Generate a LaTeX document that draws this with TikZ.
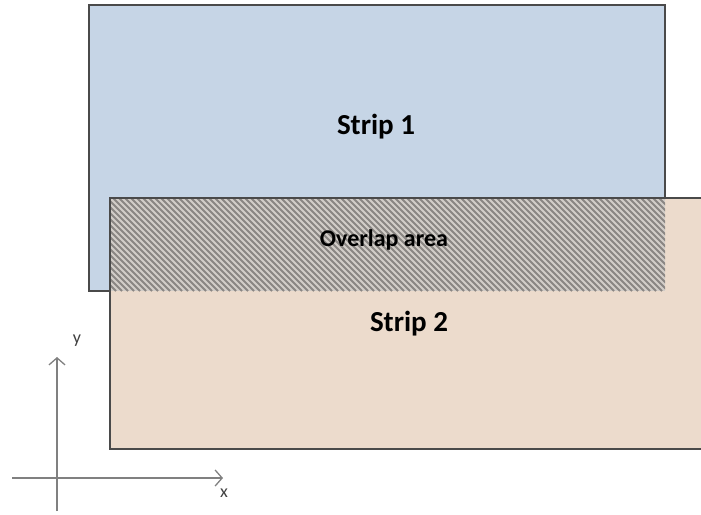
\documentclass[tikz,border=0pt]{standalone}
\usepackage{fontspec}
\setmainfont{Carlito}
\usetikzlibrary{arrows.meta}
\definecolor{stripblue}{HTML}{C6D5E6}
\definecolor{strippeach}{HTML}{ECDBCC}
\definecolor{edgegray}{HTML}{4A4A4A}
\definecolor{hatchbg}{HTML}{D2CDC8}
\definecolor{hatchfg}{HTML}{8A8683}
\definecolor{axisgray}{HTML}{808080}
\tikzset{
  stripbox/.style={draw=edgegray, line width=1.6pt, inner sep=0pt, outer sep=0pt},
  stripedge/.style={draw=edgegray, line width=1.6pt},
  bigtext/.style={font=\bfseries\fontsize{29}{29}\selectfont, anchor=base, inner sep=0pt},
  smalltext/.style={font=\bfseries\fontsize{24}{24}\selectfont, anchor=base, inner sep=0pt},
  axisline/.style={draw=axisgray, line width=1.5pt, -{Straight Barb[length=7pt,width=16pt,line width=1.3pt]}},
  axislabel/.style={font=\fontsize{18}{18}\selectfont, text=black!75, inner sep=0pt}
}
\begin{document}
\begin{tikzpicture}[x=1pt,y=-1pt]
\useasboundingbox (0,0) rectangle (701,514);
\clip (0,0) rectangle (701,514);
% Strip 1
\node[stripbox, fill=stripblue, minimum width=576pt, minimum height=286pt, anchor=north west] (s1) at (89,5) {};
% Strip 2 (runs past the right edge, so no right border)
\node[fill=strippeach, inner sep=0pt, outer sep=0pt, minimum width=660pt, minimum height=251pt, anchor=north west] (s2) at (110,198) {};
% overlap hatch
\begin{scope}
\clip (110,198) rectangle (665,291);
\fill[hatchbg] (110,198) rectangle (665,291);
\foreach \a in {11,17,...,671} {
  \draw[hatchfg, line width=2pt] (\a,198) -- ++(93,93);
}
\end{scope}
\draw[stripedge] (s2.north east) -- (s2.north west) -- (s2.south west) -- (s2.south east);
% labels
\node[bigtext] (l1) at (376,134) {Strip 1};
\node[bigtext] (l2) at (409,331) {Strip 2};
\node[smalltext] (lo) at (384,246) {Overlap area};
% axes
\coordinate (ybot) at (57,511);
\coordinate (ytop) at (57,357);
\coordinate (xleft) at (12,478);
\coordinate (xright) at (223,478);
\draw[axisline] (ybot) -- (ytop);
\draw[axisline] (xleft) -- (xright);
\node[axislabel] (ly) at (77,341) {y};
\node[axislabel] (lx) at (224,493) {x};
\end{tikzpicture}
\end{document}
